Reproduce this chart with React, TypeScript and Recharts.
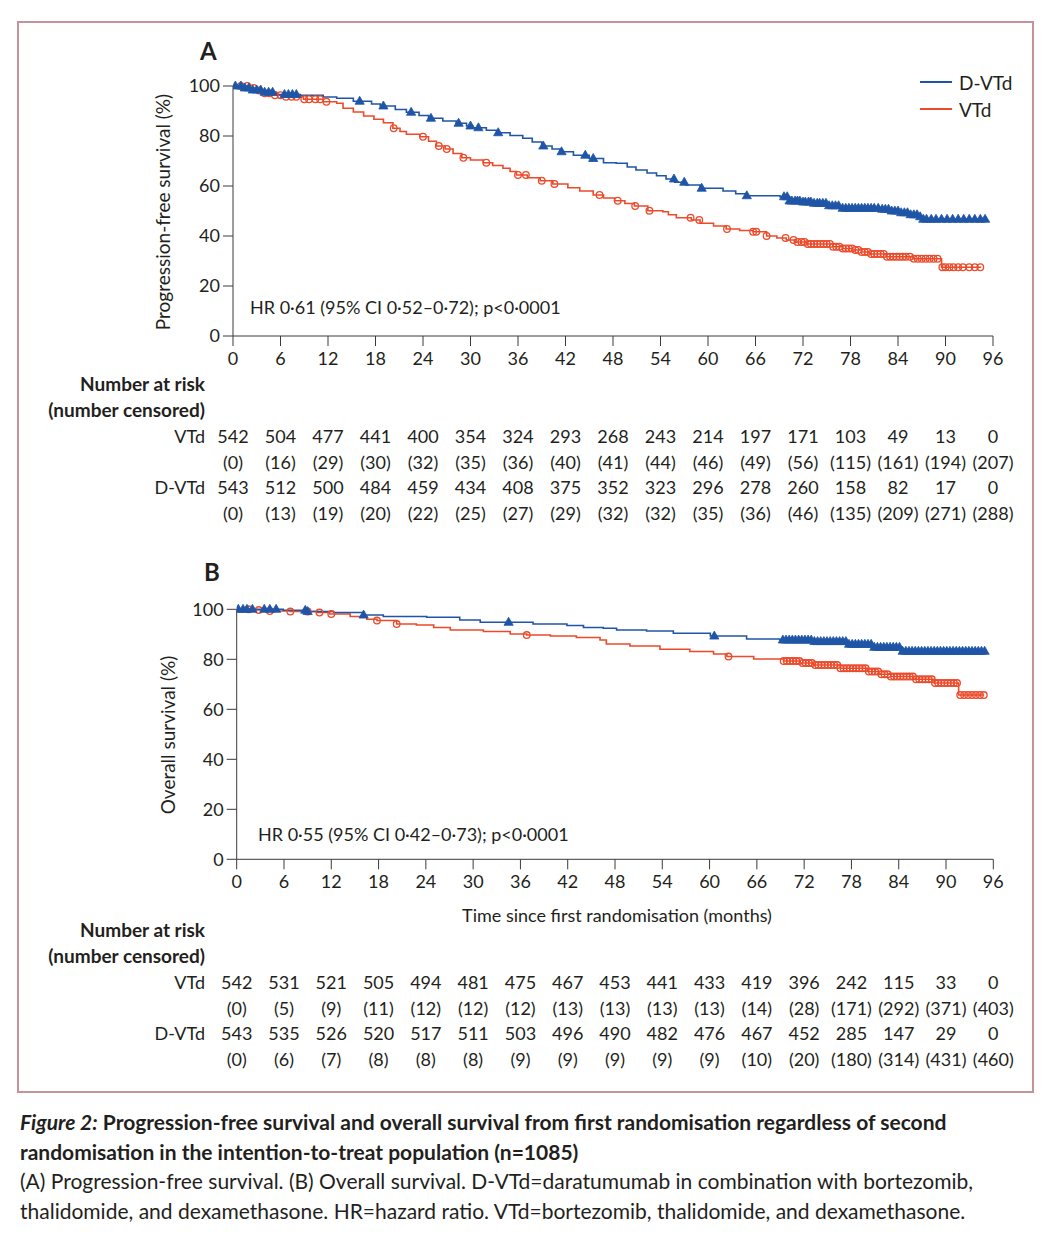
import React from 'react';
import { ComposedChart, Line, Scatter, XAxis, YAxis } from 'recharts';

const BLUE = '#1f55a6';
const RED = '#ec4a2a';
const INK = '#231f20';
const FONT = 'Lato, "Open Sans", sans-serif';

// x ticks (months) shared by both panels and the risk tables
const monthTicks = [0, 6, 12, 18, 24, 30, 36, 42, 48, 54, 60, 66, 72, 78, 84, 90, 96];
const pctTicks = [0, 20, 40, 60, 80, 100];

// Panel A: progression-free survival [month, %]
const pfsDvtd = [
  [0, 100], [1.5, 99.2], [2.5, 98.4], [4, 97.5], [5.5, 96.6], [8.5, 96.3], [11.4, 95.6], [13.1, 95.1],
  [15.2, 93.9], [17.5, 92.8], [18.6, 92], [20.5, 90.6], [21.9, 89.5], [23.5, 88.2], [24.7, 87.1],
  [26.5, 86], [28.2, 85.1], [29.5, 84], [30.3, 83.3], [32, 82.3], [33.3, 81.3], [35, 80.2], [36.6, 79.1],
  [37.8, 77.6], [39, 76], [40.3, 74.8], [41.3, 73.7], [43, 72.3], [45, 71], [46.8, 69.3], [48.4, 69.1],
  [49.8, 67.6], [50.9, 66.4], [52.3, 65.2], [53.5, 64.1], [54.7, 62.8], [55.8, 61.5], [57.2, 60.4],
  [59, 59.1], [61.9, 58], [63.5, 56.9], [64.9, 56.1], [69.1, 55.7], [70.3, 54], [71.8, 53.6],
  [73.3, 53.1], [75, 52.1], [76.6, 51.1], [81.7, 50.7], [83, 50], [84.2, 49.3], [85.5, 48.5],
  [86.8, 47.7], [87.2, 46.7], [95, 46.7],
];
const pfsVtd = [
  [0, 100], [2.2, 99.2], [3, 98.2], [3.8, 97.1], [5, 96.3], [6.4, 95.7], [8.9, 94.7], [11.4, 93.7],
  [13.1, 93.1], [13.9, 91.1], [15.2, 89.6], [16.5, 88], [17.8, 86.7], [19, 85.3], [20.2, 83.1],
  [21.1, 81.8], [21.9, 80.7], [23.6, 79.7], [24.7, 77.9], [25.7, 76], [26.8, 74.8], [27.8, 73],
  [28.9, 71.3], [30, 70.4], [31.6, 69.3], [32.8, 68.2], [34.1, 67.1], [35, 65.8], [35.8, 64.4],
  [37.2, 63.3], [38.8, 62.1], [40.4, 60.8], [42.3, 59.3], [43.8, 58], [45.5, 56.4], [46.8, 55.2],
  [48.2, 54.1], [49.5, 53], [50.7, 52], [52.4, 50.1], [54.3, 49.7], [55, 48.5], [56, 47.3],
  [57.9, 46.4], [59, 45.1], [60.7, 44], [62.3, 42.8], [64, 42.2], [65.7, 41.7], [67.4, 40],
  [68.7, 39.2], [69.9, 38.4], [71, 37.6], [72.4, 36.8], [75.8, 35.7], [77, 35], [78.3, 34.4],
  [79.4, 33.6], [80.4, 32.8], [82.5, 31.7], [85.9, 30.9], [89.5, 27.5], [94.5, 27.5],
];
// censoring marks (months)
const pfsDvtdCens = [
  0.3, 1, 1.5, 2, 2.5, 3, 3.5, 4, 4.5, 5, 6.5, 7, 7.5, 8, 16, 19, 22.5, 25, 28.5, 30, 31, 33.5, 39.2,
  41.5, 44.5, 45.5, 55.7, 57, 59.2, 64.9, 69.6, 70, 70.3, 70.6, 71, 71.3, 71.6, 72, 72.3, 72.7, 73,
  73.4, 73.8, 74.1, 74.5, 74.9, 75.3, 75.7, 76.1, 76.5, 77, 77.4, 77.8, 78.2, 78.6, 79, 79.4, 79.8,
  80.2, 80.6, 81, 81.5, 82, 82.4, 82.8, 83.2, 83.6, 84, 84.4, 84.8, 85.2, 85.6, 86, 86.4, 86.8, 87.2,
  87.6, 88.2, 88.8, 89.5, 90.2, 90.9, 91.6, 92.3, 93, 93.7, 94.4, 95,
];
const pfsVtdCens = [
  1, 1.8, 2.6, 3.3, 4, 4.6, 5.3, 6, 6.7, 7.4, 8, 9, 9.6, 10.4, 11, 11.8, 20.3, 24, 26, 27, 29.1, 32,
  36, 37, 39, 40.6, 46.3, 48.6, 50.8, 52.6, 57.8, 58.9, 62.4, 65.7, 66.1, 67.4, 69.8, 70.8, 71.3,
  71.8, 72.2, 72.6, 73, 73.4, 73.8, 74.2, 74.6, 75, 75.4, 75.8, 76.2, 76.6, 77, 77.4, 77.8, 78.2,
  78.6, 79, 79.4, 79.8, 80.2, 80.6, 81, 81.4, 81.8, 82.2, 82.6, 83, 83.4, 83.8, 84.2, 84.6, 85,
  85.5, 86, 86.5, 87, 87.5, 88, 88.5, 89, 89.6, 90, 90.5, 91, 91.6, 92.2, 93, 93.7, 94.4,
];

// Panel B: overall survival [month, %]
const osDvtd = [
  [0, 100], [5.9, 99.6], [8.9, 99.1], [12.3, 98.7], [16.1, 97.7], [18.6, 97.1], [24.1, 96.8],
  [28.3, 95.7], [30.9, 94.8], [37.6, 94.1], [41.9, 93.5], [44, 92.7], [46.5, 92.4], [48.2, 91.7],
  [52, 91.3], [55.4, 90.4], [60.1, 89.3], [64.7, 88.1], [68.9, 87.7], [73.2, 87.1], [77.4, 86],
  [80.8, 84.8], [84.2, 83.2], [95, 83.2],
];
const osVtd = [
  [0, 100], [2.5, 99.7], [4.1, 99.3], [6.8, 99.1], [10.2, 98.7], [11.8, 98.1], [14.4, 97.1],
  [16.5, 96], [17.8, 95.5], [20.3, 94.1], [22.8, 93.7], [25, 92.7], [27.1, 91.7], [31.3, 91.1],
  [34.7, 90.1], [36.8, 89.7], [39.8, 89.3], [43.1, 88.7], [46.1, 87.7], [46.9, 86.1], [49.9, 85.3],
  [53.7, 84], [57.5, 83.1], [60.5, 82.1], [62.2, 81.1], [65.6, 80.1], [69.4, 79.3], [71.5, 78.5],
  [73.2, 77.7], [76.6, 76.4], [80, 75.1], [81.5, 74], [83, 73.1], [85.9, 72], [88.5, 70.5],
  [91.6, 65.7], [94.8, 65.7],
];
const osDvtdCens = [
  0.2, 0.8, 1.3, 2, 3.5, 4.2, 5, 8.7, 9, 16.1, 34.5, 60.6, 69.3, 69.7, 70.1, 70.5, 70.9, 71.3, 71.7,
  72.1, 72.5, 72.9, 73.3, 73.7, 74.1, 74.5, 74.9, 75.3, 75.7, 76.1, 76.5, 76.9, 77.3, 77.7, 78.1,
  78.5, 78.9, 79.3, 79.7, 80.1, 80.5, 80.9, 81.3, 81.7, 82.1, 82.5, 82.9, 83.3, 83.7, 84.1, 84.5,
  84.9, 85.3, 85.7, 86.1, 86.5, 86.9, 87.3, 87.7, 88.1, 88.5, 88.9, 89.3, 89.7, 90.1, 90.5, 90.9,
  91.3, 91.7, 92.1, 92.5, 92.9, 93.3, 93.7, 94.1, 94.5, 94.9,
];
const osVtdCens = [
  1.5, 2.8, 4.2, 6.8, 9, 10.5, 12, 17.8, 20.3, 36.8, 62.4, 69.4, 69.8, 70.2, 70.6, 71, 71.4, 71.8,
  72.2, 72.6, 73, 73.4, 73.8, 74.2, 74.6, 75, 75.4, 75.8, 76.2, 76.6, 77, 77.4, 77.8, 78.2, 78.6, 79,
  79.4, 79.8, 80.2, 80.6, 81, 81.4, 81.8, 82.2, 82.6, 83, 83.4, 83.8, 84.2, 84.6, 85, 85.4, 85.8,
  86.2, 86.6, 87, 87.4, 87.8, 88.2, 88.6, 89, 89.4, 89.8, 90.2, 90.6, 91, 91.4, 91.8, 92.3, 92.8,
  93.3, 93.8, 94.3, 94.8,
];

// number at risk (number censored), one value per month tick
const pfsRiskVtd = [542, 504, 477, 441, 400, 354, 324, 293, 268, 243, 214, 197, 171, 103, 49, 13, 0];
const pfsCensVtd = [0, 16, 29, 30, 32, 35, 36, 40, 41, 44, 46, 49, 56, 115, 161, 194, 207];
const pfsRiskDvtd = [543, 512, 500, 484, 459, 434, 408, 375, 352, 323, 296, 278, 260, 158, 82, 17, 0];
const pfsCensDvtd = [0, 13, 19, 20, 22, 25, 27, 29, 32, 32, 35, 36, 46, 135, 209, 271, 288];
const osRiskVtd = [542, 531, 521, 505, 494, 481, 475, 467, 453, 441, 433, 419, 396, 242, 115, 33, 0];
const osCensVtd = [0, 5, 9, 11, 12, 12, 12, 13, 13, 13, 13, 14, 28, 171, 292, 371, 403];
const osRiskDvtd = [543, 535, 526, 520, 517, 511, 503, 496, 490, 482, 476, 467, 452, 285, 147, 29, 0];
const osCensDvtd = [0, 6, 7, 8, 8, 8, 9, 9, 9, 9, 9, 10, 20, 180, 314, 431, 460];

const toRows = (curve: number[][]) => curve.map(([t, s]) => ({ t, s }));

// y of a step curve at month t (for placing censor marks on the line)
const stepAt = (curve: number[][], t: number) => {
  let s = curve[0][1];
  for (const [ct, cs] of curve) {
    if (ct <= t) s = cs;
  }
  return s;
};
const marks = (curve: number[][], months: number[]) => months.map((t) => ({ t, s: stepAt(curve, t) }));

const Triangle = (props: any) => {
  const { cx, cy } = props;
  if (cx == null || cy == null) return null;
  return (
    <path
      d={`M${cx},${cy - 5} L${cx + 4.6},${cy + 3} L${cx - 4.6},${cy + 3} Z`}
      fill={BLUE}
      stroke={BLUE}
      strokeWidth={0.8}
    />
  );
};

const OpenCircle = (props: any) => {
  const { cx, cy } = props;
  if (cx == null || cy == null) return null;
  return <circle cx={cx} cy={cy} r={3.3} fill="none" stroke={RED} strokeWidth={1.3} />;
};

interface PanelProps {
  top: number;
  plotLeft: number;
  plotTop: number;
  plotRight: number;
  dvtd: number[][];
  vtd: number[][];
  dvtdCens: number[];
  vtdCens: number[];
}

const CHART_H = 380;

const SurvivalPanel: React.FC<PanelProps> = ({ top, plotLeft, plotTop, plotRight, dvtd, vtd, dvtdCens, vtdCens }) => {
  const yAxisW = 60;
  const xAxisH = 30;
  const plotH = 250;
  return (
    <div style={{ position: 'absolute', left: 0, top }}>
      <ComposedChart
        width={1056}
        height={CHART_H}
        margin={{ top: plotTop, left: plotLeft - yAxisW, right: 1056 - plotRight, bottom: CHART_H - plotTop - plotH - xAxisH }}
      >
        <XAxis
          type="number"
          dataKey="t"
          domain={[0, 96]}
          ticks={monthTicks}
          allowDataOverflow
          height={xAxisH}
          tickSize={10}
          tickMargin={6}
          stroke="#3a3a3a"
          tick={{ fill: INK, fontSize: 18, fontFamily: FONT }}
        />
        <YAxis
          type="number"
          domain={[0, 100]}
          ticks={pctTicks}
          width={yAxisW}
          tickSize={10}
          tickMargin={3}
          stroke="#3a3a3a"
          tick={{ fill: INK, fontSize: 18, fontFamily: FONT }}
        />
        <Line data={toRows(vtd)} dataKey="s" type="stepAfter" stroke={RED} strokeWidth={1.6} dot={false} isAnimationActive={false} />
        <Line data={toRows(dvtd)} dataKey="s" type="stepAfter" stroke={BLUE} strokeWidth={1.6} dot={false} isAnimationActive={false} />
        <Scatter data={marks(vtd, vtdCens)} dataKey="s" shape={OpenCircle} isAnimationActive={false} />
        <Scatter data={marks(dvtd, dvtdCens)} dataKey="s" shape={Triangle} isAnimationActive={false} />
      </ComposedChart>
    </div>
  );
};

const Label: React.FC<{ x: number; y: number; align?: 'left' | 'right' | 'center'; style?: React.CSSProperties; children: React.ReactNode }> = ({ x, y, align = 'left', style, children }) => {
  const tx = align === 'right' ? '-100%' : align === 'center' ? '-50%' : '0';
  return (
    <div style={{ position: 'absolute', left: x, top: y, transform: `translate(${tx}, -50%)`, whiteSpace: 'nowrap', lineHeight: 1, ...style }}>
      {children}
    </div>
  );
};

const RiskTable: React.FC<{ y0: number; plotLeft: number; plotRight: number; rv: number[]; cv: number[]; rd: number[]; cd: number[] }> = ({ y0, plotLeft, plotRight, rv, cv, rd, cd }) => {
  const colX = (i: number) => plotLeft + (monthTicks[i] / 96) * (plotRight - plotLeft);
  const rows = [
    { label: 'VTd', vals: rv.map(String), dy: 0 },
    { label: '', vals: cv.map((v) => `(${v})`), dy: 26 },
    { label: 'D-VTd', vals: rd.map(String), dy: 51 },
    { label: '', vals: cd.map((v) => `(${v})`), dy: 77 },
  ];
  return (
    <>
      <Label x={205} y={y0 - 53} align="right" style={{ fontWeight: 700, fontSize: 19 }}>Number at risk</Label>
      <Label x={205} y={y0 - 27} align="right" style={{ fontWeight: 700, fontSize: 19 }}>(number censored)</Label>
      {rows.map((r, ri) => (
        <React.Fragment key={ri}>
          {r.label && <Label x={205} y={y0 + r.dy} align="right" style={{ fontSize: 18 }}>{r.label}</Label>}
          {r.vals.map((v, i) => (
            <Label key={i} x={colX(i)} y={y0 + r.dy} align="center" style={{ fontSize: 18 }}>{v}</Label>
          ))}
        </React.Fragment>
      ))}
    </>
  );
};

const LegendKey: React.FC<{ y: number; color: string; text: string }> = ({ y, color, text }) => (
  <>
    <div style={{ position: 'absolute', left: 920, top: y - 1, width: 32, height: 2, background: color }} />
    <Label x={959} y={y} style={{ fontSize: 19 }}>{text}</Label>
  </>
);

const A = { left: 233, top: 86, right: 993 };
const B = { left: 236.7, top: 609.3, right: 993.3 };

export default function App() {
  return (
    <div style={{ position: 'relative', width: 1056, height: 1254, margin: -8, background: '#fff', fontFamily: FONT, color: INK, overflow: 'hidden' }}>
      <div style={{ position: 'absolute', left: 17, top: 21, width: 1017, height: 1072, border: '2px solid #c4939b', boxSizing: 'border-box' }} />

      {/* panel A */}
      <SurvivalPanel top={0} plotLeft={A.left} plotTop={A.top} plotRight={A.right} dvtd={pfsDvtd} vtd={pfsVtd} dvtdCens={pfsDvtdCens} vtdCens={pfsVtdCens} />
      <Label x={200} y={51} style={{ fontWeight: 700, fontSize: 24 }}>A</Label>
      <Label x={162} y={212} align="center" style={{ fontSize: 19, transform: 'translate(-50%, -50%) rotate(-90deg)' }}>Progression-free survival (%)</Label>
      <Label x={250} y={307} style={{ fontSize: 18 }}>HR 0·61 (95% CI 0·52–0·72); p&lt;0·0001</Label>
      <LegendKey y={82} color={BLUE} text="D-VTd" />
      <LegendKey y={109} color={RED} text="VTd" />
      <RiskTable y0={436} plotLeft={A.left} plotRight={A.right} rv={pfsRiskVtd} cv={pfsCensVtd} rd={pfsRiskDvtd} cd={pfsCensDvtd} />

      {/* panel B */}
      <SurvivalPanel top={520} plotLeft={B.left} plotTop={B.top - 520} plotRight={B.right} dvtd={osDvtd} vtd={osVtd} dvtdCens={osDvtdCens} vtdCens={osVtdCens} />
      <Label x={204} y={572} style={{ fontWeight: 700, fontSize: 24 }}>B</Label>
      <Label x={167} y={735} align="center" style={{ fontSize: 19, transform: 'translate(-50%, -50%) rotate(-90deg)' }}>Overall survival (%)</Label>
      <Label x={258} y={834} style={{ fontSize: 18 }}>HR 0·55 (95% CI 0·42–0·73); p&lt;0·0001</Label>
      <Label x={617} y={915} align="center" style={{ fontSize: 18 }}>Time since first randomisation (months)</Label>
      <RiskTable y0={982} plotLeft={B.left} plotRight={B.right} rv={osRiskVtd} cv={osCensVtd} rd={osRiskDvtd} cd={osCensDvtd} />

      {/* caption */}
      <div style={{ position: 'absolute', left: 20, top: 1107, width: 1020, fontFamily: FONT, fontSize: 21, lineHeight: '29.5px', color: INK }}>
        <div style={{ fontWeight: 700 }}>
          <span style={{ fontStyle: 'italic' }}>Figure 2:</span> Progression-free survival and overall survival from first randomisation regardless of second
          <br />
          randomisation in the intention-to-treat population (n=1085)
        </div>
        <div>
          (A) Progression-free survival. (B) Overall survival. D-VTd=daratumumab in combination with bortezomib,
          <br />
          thalidomide, and dexamethasone. HR=hazard ratio. VTd=bortezomib, thalidomide, and dexamethasone.
        </div>
      </div>
    </div>
  );
}
